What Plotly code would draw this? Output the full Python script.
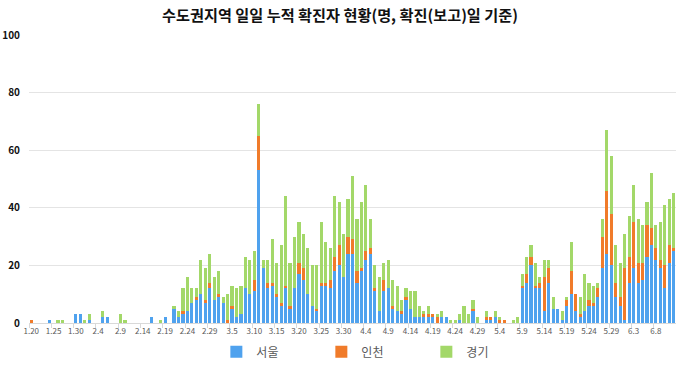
import pandas as pd
import plotly.graph_objects as go

# Categories: daily dates 1.20 .. 6.12
dates = pd.date_range("2020-01-20", "2020-06-12", freq="D")
categories = [f"{d.month}.{d.day}" for d in dates]

# 서울 (Seoul)
seoul = [
    0, 0, 0, 0, 1, 0, 0, 0, 0, 0, 3, 3,                     # 1.20-1.31
    0, 1, 0, 0, 2, 2, 0, 0, 0, 0, 0, 0, 0, 0, 0, 2, 0, 0, 2, 0,  # 2.1-2.20
    5, 2, 3, 4, 7, 8, 10, 7, 12,                            # 2.21-2.29
    8, 9, 7, 0, 5, 2, 3, 12, 10, 11, 53, 19, 12, 13, 9, 6,  # 3.1-3.16
    12, 5, 12, 17, 15, 10, 6, 4, 13, 13, 12, 18, 20, 16, 24,  # 3.17-3.31
    24, 14, 18, 22, 24, 11, 4, 11, 12, 5, 4, 3, 8, 5, 2,    # 4.1-4.15
    2, 2, 2, 2, 0, 2, 2, 0, 0, 1, 0, 0, 4, 0, 0,            # 4.16-4.30
    1, 1, 2, 0, 0, 0, 0, 0, 12, 14, 20, 12, 12, 4, 14, 5,   # 5.1-5.16
    5, 1, 6, 10, 4, 2, 4, 6, 6, 9, 19, 24, 20, 9, 6,        # 5.17-5.31
    1, 14, 19, 14, 15, 23, 27, 22, 19, 12, 21, 25,          # 6.1-6.12
]

# 인천 (Incheon)
incheon = [
    1, 0, 0, 0, 0, 0, 0, 0, 0, 0, 0, 0,
    0, 0, 0, 0, 0, 0, 0, 0, 0, 0, 0, 0, 0, 0, 0, 0, 0, 0, 0, 0,
    0, 0, 1, 0, 0, 1, 0, 1, 2,
    0, 1, 0, 1, 1, 0, 0, 0, 0, 4, 12, 0, 2, 1, 1, 1,
    1, 1, 0, 4, 4, 0, 0, 1, 1, 1, 3, 5, 7, 0, 6,
    5, 4, 1, 3, 2, 1, 0, 4, 0, 1, 0, 1, 1, 0, 0,
    0, 1, 1, 1, 2, 0, 0, 0, 0, 0, 0, 0, 1, 0, 0,
    1, 1, 0, 1, 1, 0, 0, 0, 1, 3, 3, 1, 2, 12, 5, 0,
    0, 0, 2, 8, 6, 1, 0, 2, 1, 3, 11, 22, 18, 5, 3,
    18, 9, 16, 7, 6, 11, 6, 4, 3, 8, 6, 1,
]

# 경기 (Gyeonggi)
gyeonggi = [
    0, 0, 0, 0, 0, 0, 1, 1, 0, 0, 0, 0,
    1, 2, 0, 0, 2, 0, 0, 0, 3, 1, 0, 0, 0, 0, 0, 0, 0, 1, 0, 0,
    1, 2, 8, 12, 5, 3, 12, 11, 10,
    8, 8, 2, 9, 7, 10, 10, 11, 12, 10, 11, 3, 8, 15, 11, 20,
    31, 15, 18, 14, 12, 16, 14, 15, 21, 14, 11, 21, 15, 15, 13,
    22, 18, 23, 23, 10, 8, 12, 6, 10, 9, 9, 4, 3, 6, 9,
    4, 1, 3, 0, 1, 2, 0, 1, 1, 2, 6, 3, 3, 2, 0,
    2, 0, 2, 1, 0, 0, 1, 2, 4, 6, 4, 8, 2, 6, 3, 4,
    0, 3, 1, 10, 0, 6, 13, 6, 6, 2, 6, 21, 20, 13, 12,
    12, 14, 13, 15, 13, 8, 19, 8, 13, 21, 16, 19,
]

# Tick labels every 5 days
tick_step = 5
tick_idx = list(range(0, len(categories), tick_step))
tick_labels = [categories[i] for i in tick_idx]
y_ticks = [0, 20, 40, 60, 80, 100]

colors = {"서울": "#4FA2EE", "인천": "#F07B2A", "경기": "#A3D869"}

x = list(range(len(categories)))
fig = go.Figure()
for name, vals in [("서울", seoul), ("인천", incheon), ("경기", gyeonggi)]:
    fig.add_trace(go.Bar(x=x, y=vals, name=name, marker_color=colors[name],
                         marker_line_width=0, customdata=categories,
                         hovertemplate="%{customdata}: %{y}<extra>" + name + "</extra>"))

fig.update_layout(
    barmode="stack",
    bargap=0.3,
    width=680, height=365,
    margin=dict(l=29, r=4, t=35, b=42),
    paper_bgcolor="white", plot_bgcolor="white",
    title=dict(text="수도권지역 일일 누적 확진자 현황(명, 확진(보고)일 기준)",
               x=0.5, xanchor="center", y=0.958, yanchor="middle",
               font=dict(family="Noto Sans CJK KR", size=15.2, color="#111111", weight="bold")),
    legend=dict(orientation="h", traceorder="normal",
                x=0.533, xanchor="center", yref="container", y=0.036, yanchor="middle",
                font=dict(family="Noto Sans CJK KR", size=12, color="#595959"),
                entrywidth=60, entrywidthmode="pixels", itemclick=False),
    font=dict(family="Noto Sans CJK KR"),
)
fig.update_xaxes(
    range=[-0.5, len(categories) - 0.5], automargin=False,
    tickmode="array", tickvals=tick_idx, ticktext=tick_labels,
    tickfont=dict(family="Noto Sans CJK KR", size=8, color="#595959"),
    ticks="", showgrid=False,
    showline=True, linecolor="#D9D9D9", linewidth=1,
    minor=dict(tickvals=[i - 0.5 for i in tick_idx], ticks="outside", ticklen=4,
               tickcolor="#D9D9D9", showgrid=False),
)
fig.update_yaxes(
    range=[0, 100], tickvals=y_ticks, automargin=False,
    tickfont=dict(family="Noto Sans CJK KR", size=10, color="#111111", weight="bold"),
    showgrid=True, gridcolor="#E4E4E4", gridwidth=1,
    zeroline=False, ticks="", ticklabelstandoff=8,
)

fig.write_html("out.html", config={"displayModeBar": False},
               post_script="document.body.style.margin='0';")
